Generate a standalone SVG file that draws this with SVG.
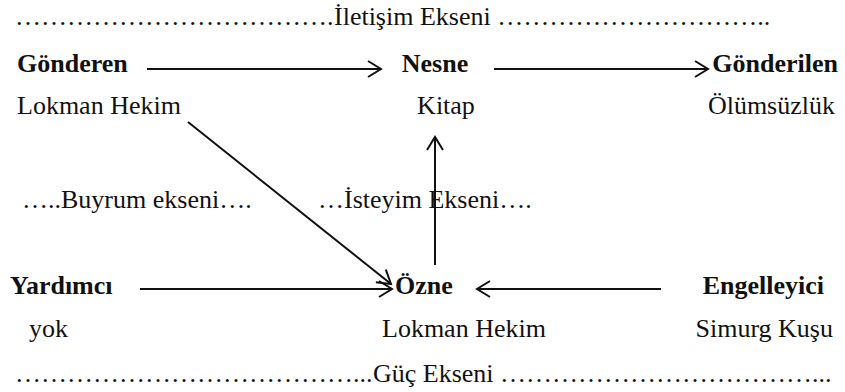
<svg xmlns="http://www.w3.org/2000/svg" width="845" height="392" viewBox="0 0 845 392" font-family="'Liberation Serif', 'Times New Roman', serif">
<defs>
<style>
text{font-family:'Liberation Serif','Times New Roman',serif;font-size:26px;fill:#111}
.b{font-weight:bold}
.m{text-anchor:middle}
.e{text-anchor:end}
.c{stroke:#111;stroke-width:2;fill:none}
</style>
<marker id="ah" markerUnits="userSpaceOnUse" markerWidth="18" markerHeight="18" viewBox="0 0 18 18" refX="16" refY="9" orient="auto">
<path d="M3,1 L16,9 L3,17" fill="none" stroke="#111" stroke-width="2"/>
</marker>
</defs>
<rect width="845" height="392" fill="#fff"/>
<g id="axis-iletisim"><text y="25"><tspan x="15">&#8230;&#8230;&#8230;&#8230;&#8230;&#8230;&#8230;&#8230;&#8230;&#8230;&#8230;&#8230;.</tspan><tspan x="334">İletişim Ekseni</tspan><tspan> &#8230;&#8230;&#8230;&#8230;&#8230;&#8230;&#8230;&#8230;&#8230;&#8230;..</tspan></text></g>
<g id="gonderen"><text class="b" x="17" y="72">Gönderen</text><text x="17" y="114">Lokman Hekim</text></g>
<g id="nesne"><text class="b m" x="435" y="72">Nesne</text><text class="m" x="446" y="114">Kitap</text></g>
<g id="gonderilen"><text class="b e" x="838" y="72">Gönderilen</text><text class="e" x="835" y="114">Ölümsüzlük</text></g>
<g id="buyrum"><text x="22" y="208">…..Buyrum ekseni….</text></g>
<g id="isteyim"><text x="318" y="208">…İsteyim Ekseni….</text></g>
<g id="yardimci"><text class="b" x="10" y="294">Yardımcı</text><text x="29" y="337">yok</text></g>
<g id="ozne"><text class="b" x="395" y="294">Özne</text><text x="382" y="337">Lokman Hekim</text></g>
<g id="engelleyici"><text class="b e" x="824" y="294">Engelleyici</text><text class="e" x="833" y="337">Simurg Kuşu</text></g>
<g id="axis-guc"><text y="382"><tspan x="15">&#8230;&#8230;&#8230;&#8230;&#8230;&#8230;&#8230;&#8230;&#8230;&#8230;&#8230;&#8230;&#8230;...</tspan><tspan x="373">Güç Ekseni</tspan><tspan> &#8230;&#8230;&#8230;&#8230;&#8230;&#8230;&#8230;&#8230;&#8230;&#8230;&#8230;&#8230;...</tspan></text></g>
<g id="connectors">
<line class="c" x1="147" y1="69" x2="381" y2="69" marker-end="url(#ah)"/>
<line class="c" x1="494" y1="69" x2="708" y2="69" marker-end="url(#ah)"/>
<line class="c" x1="188" y1="122" x2="391" y2="284" marker-end="url(#ah)"/>
<line class="c" x1="435" y1="265" x2="435" y2="137" marker-end="url(#ah)"/>
<line class="c" x1="140" y1="289" x2="392" y2="289" marker-end="url(#ah)"/>
<line class="c" x1="661" y1="289" x2="477" y2="289" marker-end="url(#ah)"/>
</g>
</svg>
